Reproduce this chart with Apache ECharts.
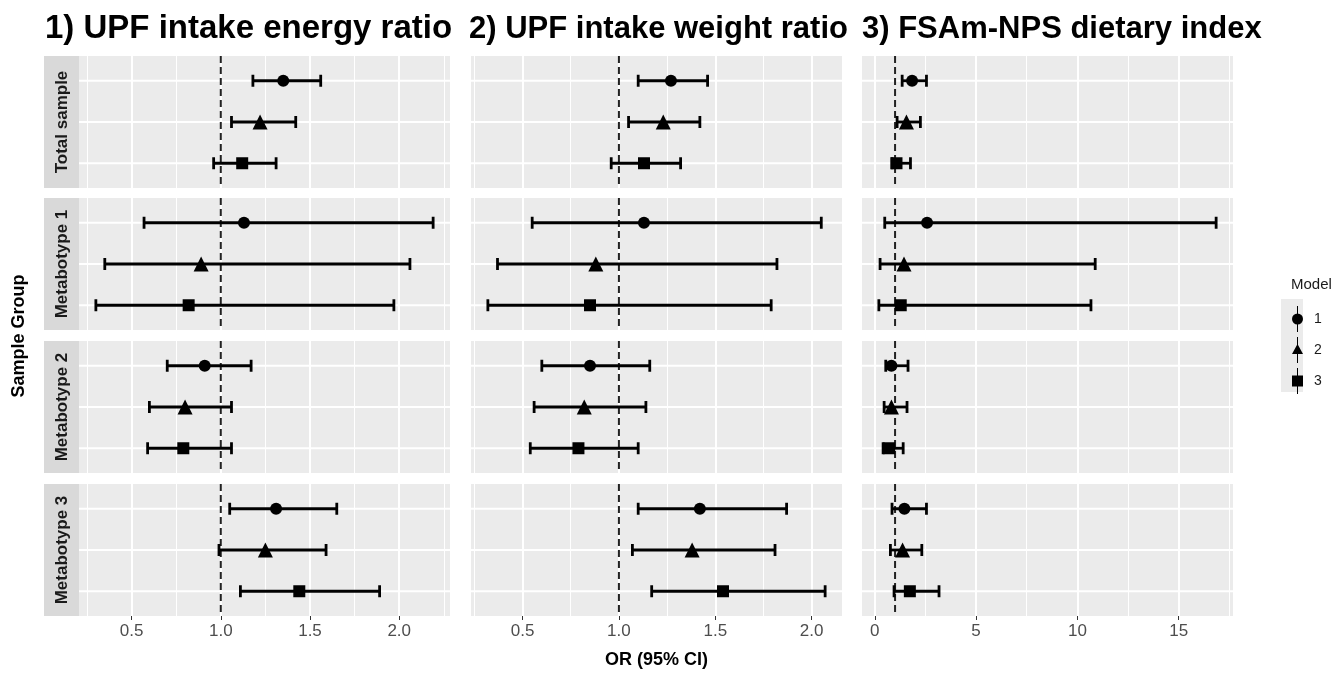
<!DOCTYPE html>
<html>
<head>
<meta charset="utf-8">
<script src="https://cdn.jsdelivr.net/npm/echarts@6/dist/echarts.min.js"></script>
<style>
  html, body { margin: 0; padding: 0; background: #fff; }
  #chart { width: 1336px; height: 674px; }
</style>
</head>
<body>
<div id="chart"></div>
<script>
const groups = ['Total sample', 'Metabotype 1', 'Metabotype 2', 'Metabotype 3'];
const outcomes = ['1) UPF intake energy ratio', '2) UPF intake weight ratio', '3) FSAm-NPS dietary index'];
const models = ['1', '2', '3'];
const modelSymbols = ['circle', 'triangle', 'rect'];

// one row per sample group, one column per model (1, 2, 3)
const energyOR = [[1.35, 1.22, 1.12], [1.13, 0.89, 0.82], [0.91, 0.80, 0.79], [1.31, 1.25, 1.44]];
const energyLo = [[1.18, 1.06, 0.96], [0.57, 0.35, 0.30], [0.70, 0.60, 0.59], [1.05, 0.99, 1.11]];
const energyHi = [[1.56, 1.42, 1.31], [2.19, 2.06, 1.97], [1.17, 1.06, 1.06], [1.65, 1.59, 1.89]];

const weightOR = [[1.27, 1.23, 1.13], [1.13, 0.88, 0.85], [0.85, 0.82, 0.79], [1.42, 1.38, 1.54]];
const weightLo = [[1.10, 1.05, 0.96], [0.55, 0.37, 0.32], [0.60, 0.56, 0.54], [1.10, 1.07, 1.17]];
const weightHi = [[1.46, 1.42, 1.32], [2.05, 1.82, 1.79], [1.16, 1.14, 1.10], [1.87, 1.81, 2.07]];

const fsaOR = [[1.84, 1.56, 1.07], [2.58, 1.44, 1.28], [0.82, 0.82, 0.71], [1.46, 1.37, 1.73]];
const fsaLo = [[1.35, 1.10, 0.85], [0.49, 0.26, 0.20], [0.54, 0.46, 0.41], [0.85, 0.77, 0.95]];
const fsaHi = [[2.55, 2.25, 1.76], [16.85, 10.88, 10.67], [1.64, 1.59, 1.40], [2.55, 2.32, 3.17]];

const energyTicks = [0.5, 1.0, 1.5, 2.0];
const weightTicks = [0.5, 1.0, 1.5, 2.0];
const fsaTicks = [0, 5, 10, 15];

const refValue = 1;

const cols = [
  { or: energyOR, lo: energyLo, hi: energyHi, ticks: energyTicks, digits: 1 },
  { or: weightOR, lo: weightLo, hi: weightHi, ticks: weightTicks, digits: 1 },
  { or: fsaOR, lo: fsaLo, hi: fsaHi, ticks: fsaTicks, digits: 0 }
];

const FONT = '"Liberation Sans", Arial, sans-serif';
const panelLeft = [79, 471, 862];
const panelW = 371;
const panelTop = [56, 198, 341, 484];
const panelH = 132;
const titleX = [45, 469, 862];
const titleSize = [33, 31, 31];

const grid = [], xAxis = [], yAxis = [], series = [], graphic = [];

// ggplot-style 5% expansion of each column's range
cols.forEach((c) => {
  const lo = Math.min(...c.lo.flat());
  const hi = Math.max(...c.hi.flat());
  const pad = (hi - lo) * 0.05;
  c.min = lo - pad;
  c.max = hi + pad;
});

function errorBarItem(params, api) {
  const y = api.value(1);
  const a = api.coord([api.value(0), y]);
  const b = api.coord([api.value(2), y]);
  const cap = 6;
  const st = { stroke: '#000', lineWidth: 2.8 };
  return {
    type: 'group',
    children: [
      { type: 'line', shape: { x1: a[0], y1: a[1], x2: b[0], y2: b[1] }, style: st },
      { type: 'line', shape: { x1: a[0], y1: a[1] - cap, x2: a[0], y2: a[1] + cap }, style: st },
      { type: 'line', shape: { x1: b[0], y1: b[1] - cap, x2: b[0], y2: b[1] + cap }, style: st }
    ]
  };
}

function hGridItem(params, api) {
  const cs = params.coordSys;
  const y = api.coord([api.value(0), api.value(1)])[1];
  return { type: 'line', shape: { x1: cs.x, y1: y, x2: cs.x + cs.width, y2: y }, style: { stroke: '#fff', lineWidth: 2 } };
}

function refLineItem(params, api) {
  const cs = params.coordSys;
  const x = api.coord([api.value(0), api.value(1)])[0];
  return { type: 'line', shape: { x1: x, y1: cs.y, x2: x, y2: cs.y + cs.height }, style: { stroke: '#222', lineWidth: 2, lineDash: [7, 4] } };
}

groups.forEach((g, r) => {
  cols.forEach((c, ci) => {
    const i = grid.length;
    const bottom = r === groups.length - 1;
    grid.push({
      left: panelLeft[ci], top: panelTop[r], width: panelW, height: panelH,
      show: true, backgroundColor: '#EBEBEB', borderWidth: 0
    });
    xAxis.push({
      type: 'value', gridIndex: i, min: c.min, max: c.max, splitNumber: 4,
      axisLine: { show: false },
      axisTick: { show: bottom, length: 4, customValues: c.ticks, lineStyle: { color: '#333', width: 1 } },
      axisLabel: {
        show: bottom, customValues: c.ticks, margin: 7,
        color: '#4D4D4D', fontSize: 17, fontFamily: FONT,
        formatter: (v) => Number(v).toFixed(c.digits)
      },
      splitLine: { show: true, lineStyle: { color: '#fff', width: 2 } },
      minorTick: { show: false, splitNumber: 2 },
      minorSplitLine: { show: true, lineStyle: { color: '#fff', width: 1 } }
    });
    yAxis.push({ type: 'value', gridIndex: i, min: 0.4, max: 3.6, inverse: true, show: false });

    series.push({
      type: 'custom', xAxisIndex: i, yAxisIndex: i, z: 1, silent: true,
      renderItem: hGridItem,
      data: models.map((m, k) => [c.min, k + 1])
    });
    series.push({
      type: 'custom', xAxisIndex: i, yAxisIndex: i, z: 2, silent: true,
      renderItem: refLineItem,
      data: [[refValue, 2]]
    });
    series.push({
      type: 'custom', xAxisIndex: i, yAxisIndex: i, z: 3,
      renderItem: errorBarItem,
      encode: { x: [0, 2], y: 1 },
      data: models.map((m, k) => [c.lo[r][k], k + 1, c.hi[r][k]])
    });
    models.forEach((m, k) => {
      series.push({
        type: 'scatter', name: m, xAxisIndex: i, yAxisIndex: i, z: 4,
        symbol: modelSymbols[k], symbolSize: k === 1 ? 15 : 12,
        itemStyle: { color: '#000', opacity: 1 },
        data: [[c.or[r][k], k + 1]]
      });
    });
  });

  // facet strip on the left
  graphic.push({
    type: 'rect', left: 44, top: panelTop[r], silent: true,
    shape: { width: 35, height: panelH }, style: { fill: '#D9D9D9' }
  });
  graphic.push({
    type: 'text', x: 62, y: panelTop[r] + panelH / 2, rotation: Math.PI / 2, silent: true,
    style: { text: g, fill: '#1A1A1A', font: 'bold 17px ' + FONT, align: 'center', verticalAlign: 'middle' }
  });
});

outcomes.forEach((t, ci) => {
  graphic.push({
    type: 'text', x: titleX[ci], y: 29, silent: true,
    style: { text: t, fill: '#000', font: 'bold ' + titleSize[ci] + 'px ' + FONT, align: 'left', verticalAlign: 'middle' }
  });
});

graphic.push({
  type: 'text', x: panelLeft[1] + panelW / 2, y: 660, silent: true,
  style: { text: 'OR (95% CI)', fill: '#000', font: 'bold 18px ' + FONT, align: 'center', verticalAlign: 'middle' }
});
graphic.push({
  type: 'text', x: 19, y: panelTop[0] + (panelTop[3] + panelH - panelTop[0]) / 2, rotation: Math.PI / 2, silent: true,
  style: { text: 'Sample Group', fill: '#000', font: 'bold 18px ' + FONT, align: 'center', verticalAlign: 'middle' }
});

// legend title and key backgrounds
graphic.push({
  type: 'text', x: 1291, y: 285, silent: true,
  style: { text: 'Model', fill: '#1A1A1A', font: '15px ' + FONT, align: 'left', verticalAlign: 'middle' }
});
models.forEach((m, k) => {
  graphic.push({
    type: 'rect', left: 1281, top: 299 + k * 31, silent: true, z: -1,
    shape: { width: 22, height: 31 }, style: { fill: '#EBEBEB' }
  });
});

const legendIcons = [
  'path://M6.5,0 L7.5,0 L7.5,26 L6.5,26 Z M1.5,13 A5.5,5.5 0 1,1 12.5,13 A5.5,5.5 0 1,1 1.5,13 Z',
  'path://M6.5,0 L7.5,0 L7.5,26 L6.5,26 Z M7,7 L12.5,17 L1.5,17 Z',
  'path://M6.5,0 L7.5,0 L7.5,26 L6.5,26 Z M1.5,7.5 L12.5,7.5 L12.5,18.5 L1.5,18.5 Z'
];

const chart = echarts.init(document.getElementById('chart'), null, { renderer: 'canvas' });
chart.setOption({
  animation: false,
  backgroundColor: '#fff',
  grid, xAxis, yAxis, series, graphic,
  legend: {
    orient: 'vertical', left: 1287, top: 301,
    itemWidth: 11, itemHeight: 26, itemGap: 5,
    selectedMode: false,
    data: models.map((m, k) => ({ name: m, icon: legendIcons[k] })),
    itemStyle: { color: '#000' },
    textStyle: { color: '#1A1A1A', fontSize: 14, fontFamily: FONT, padding: [0, 0, 0, 6] }
  }
});
</script>
</body>
</html>
